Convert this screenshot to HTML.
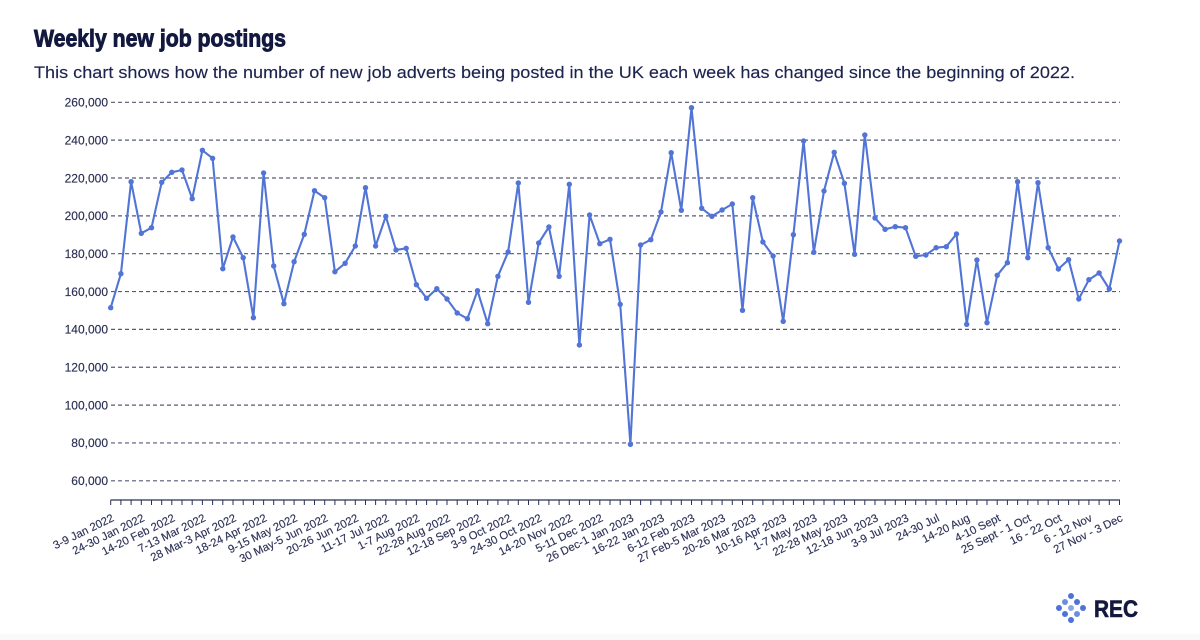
<!DOCTYPE html>
<html>
<head>
<meta charset="utf-8">
<style>
  html,body{margin:0;padding:0;background:#ffffff;}
  body{width:1200px;height:640px;overflow:hidden;}
  svg{display:block;}
  text{font-family:"Liberation Sans",sans-serif;}
</style>
</head>
<body>
<svg width="1200" height="640" viewBox="0 0 1200 640" xmlns="http://www.w3.org/2000/svg">
  <defs>
    <marker id="dot" markerWidth="8" markerHeight="8" refX="4" refY="4" markerUnits="userSpaceOnUse">
      <circle cx="4" cy="4" r="2.7" fill="#5174d6"/>
    </marker>
  </defs>
  <rect x="0" y="0" width="1200" height="640" fill="#ffffff"/>
  <rect x="0" y="634" width="1200" height="6" fill="#fafafa"/>

  <!-- Title -->
  <text x="34" y="46.5" font-size="24" font-weight="bold" fill="#13183f" stroke="#13183f" stroke-width="0.9" textLength="252" lengthAdjust="spacingAndGlyphs">Weekly new job postings</text>
  <text x="34" y="78" font-size="17" fill="#1d2350" stroke="#1d2350" stroke-width="0.15" textLength="1041" lengthAdjust="spacingAndGlyphs">This chart shows how the number of new job adverts being posted in the UK each week has changed since the beginning of 2022.</text>

  <!-- Gridlines -->
  <g stroke="#555a78" stroke-width="1.2" stroke-dasharray="4,3">
    <line x1="111" y1="102.3" x2="1120" y2="102.3"/>
    <line x1="111" y1="140.15" x2="1120" y2="140.15"/>
    <line x1="111" y1="178" x2="1120" y2="178"/>
    <line x1="111" y1="215.85" x2="1120" y2="215.85"/>
    <line x1="111" y1="253.7" x2="1120" y2="253.7"/>
    <line x1="111" y1="291.55" x2="1120" y2="291.55"/>
    <line x1="111" y1="329.4" x2="1120" y2="329.4"/>
    <line x1="111" y1="367.25" x2="1120" y2="367.25"/>
    <line x1="111" y1="405.1" x2="1120" y2="405.1"/>
    <line x1="111" y1="442.95" x2="1120" y2="442.95"/>
    <line x1="111" y1="480.8" x2="1120" y2="480.8"/>
  </g>

  <!-- Y labels -->
  <g font-size="12" fill="#2b3055" text-anchor="end" stroke="#2b3055" stroke-width="0.15">
    <text x="108" y="106.6">260,000</text>
    <text x="108" y="144.4">240,000</text>
    <text x="108" y="182.3">220,000</text>
    <text x="108" y="220.1">200,000</text>
    <text x="108" y="258">180,000</text>
    <text x="108" y="295.8">160,000</text>
    <text x="108" y="333.7">140,000</text>
    <text x="108" y="371.5">120,000</text>
    <text x="108" y="409.4">100,000</text>
    <text x="108" y="447.2">80,000</text>
    <text x="108" y="485.1">60,000</text>
  </g>

  <!-- X axis -->
  <line x1="110.7" y1="500" x2="1120" y2="500" stroke="#2b3055" stroke-width="1.3"/>
  <path stroke="#2b3055" stroke-width="1" fill="none" d="
M110.7 500v5 M120.9 500v5 M131.1 500v5 M141.3 500v5 M151.5 500v5 M161.7 500v5 M171.8 500v5 M182.0 500v5 M192.2 500v5 M202.4 500v5
M212.6 500v5 M222.8 500v5 M233.0 500v5 M243.2 500v5 M253.4 500v5 M263.6 500v5 M273.7 500v5 M283.9 500v5 M294.1 500v5 M304.3 500v5
M314.5 500v5 M324.7 500v5 M334.9 500v5 M345.1 500v5 M355.3 500v5 M365.5 500v5 M375.6 500v5 M385.8 500v5 M396.0 500v5 M406.2 500v5
M416.4 500v5 M426.6 500v5 M436.8 500v5 M447.0 500v5 M457.2 500v5 M467.4 500v5 M477.5 500v5 M487.7 500v5 M497.9 500v5 M508.1 500v5
M518.3 500v5 M528.5 500v5 M538.7 500v5 M548.9 500v5 M559.1 500v5 M569.3 500v5 M579.4 500v5 M589.6 500v5 M599.8 500v5 M610.0 500v5
M620.2 500v5 M630.4 500v5 M640.6 500v5 M650.8 500v5 M661.0 500v5 M671.2 500v5 M681.3 500v5 M691.5 500v5 M701.7 500v5 M711.9 500v5
M722.1 500v5 M732.3 500v5 M742.5 500v5 M752.7 500v5 M762.9 500v5 M773.1 500v5 M783.2 500v5 M793.4 500v5 M803.6 500v5 M813.8 500v5
M824.0 500v5 M834.2 500v5 M844.4 500v5 M854.6 500v5 M864.8 500v5 M875.0 500v5 M885.1 500v5 M895.3 500v5 M905.5 500v5 M915.7 500v5
M925.9 500v5 M936.1 500v5 M946.3 500v5 M956.5 500v5 M966.7 500v5 M976.9 500v5 M987.0 500v5 M997.2 500v5 M1007.4 500v5 M1017.6 500v5
M1027.8 500v5 M1038.0 500v5 M1048.2 500v5 M1058.4 500v5 M1068.6 500v5 M1078.8 500v5 M1088.9 500v5 M1099.1 500v5 M1109.3 500v5 M1119.5 500v5"/>

  <!-- X labels -->
  <g font-size="11.3" fill="#2d3259" text-anchor="end" stroke="#2d3259" stroke-width="0.15">
    <text transform="translate(114.7,520.5) rotate(-26)">3-9 Jan 2022</text>
    <text transform="translate(145.3,520.5) rotate(-26)">24-30 Jan 2022</text>
    <text transform="translate(175.8,520.5) rotate(-26)">14-20 Feb 2022</text>
    <text transform="translate(206.4,520.5) rotate(-26)">7-13 Mar 2022</text>
    <text transform="translate(237.0,520.5) rotate(-26)">28 Mar-3 Apr 2022</text>
    <text transform="translate(267.6,520.5) rotate(-26)">18-24 Apr 2022</text>
    <text transform="translate(298.1,520.5) rotate(-26)">9-15 May 2022</text>
    <text transform="translate(328.7,520.5) rotate(-26)">30 May-5 Jun 2022</text>
    <text transform="translate(359.3,520.5) rotate(-26)">20-26 Jun 2022</text>
    <text transform="translate(389.8,520.5) rotate(-26)">11-17 Jul 2022</text>
    <text transform="translate(420.4,520.5) rotate(-26)">1-7 Aug 2022</text>
    <text transform="translate(451.0,520.5) rotate(-26)">22-28 Aug 2022</text>
    <text transform="translate(481.5,520.5) rotate(-26)">12-18 Sep 2022</text>
    <text transform="translate(512.1,520.5) rotate(-26)">3-9 Oct 2022</text>
    <text transform="translate(542.7,520.5) rotate(-26)">24-30 Oct 2022</text>
    <text transform="translate(573.3,520.5) rotate(-26)">14-20 Nov 2022</text>
    <text transform="translate(603.8,520.5) rotate(-26)">5-11 Dec 2022</text>
    <text transform="translate(634.4,520.5) rotate(-26)">26 Dec-1 Jan 2023</text>
    <text transform="translate(665.0,520.5) rotate(-26)">16-22 Jan 2023</text>
    <text transform="translate(695.5,520.5) rotate(-26)">6-12 Feb 2023</text>
    <text transform="translate(726.1,520.5) rotate(-26)">27 Feb-5 Mar 2023</text>
    <text transform="translate(756.7,520.5) rotate(-26)">20-26 Mar 2023</text>
    <text transform="translate(787.2,520.5) rotate(-26)">10-16 Apr 2023</text>
    <text transform="translate(817.8,520.5) rotate(-26)">1-7 May 2023</text>
    <text transform="translate(848.4,520.5) rotate(-26)">22-28 May 2023</text>
    <text transform="translate(879.0,520.5) rotate(-26)">12-18 Jun 2023</text>
    <text transform="translate(909.5,520.5) rotate(-26)">3-9 Jul 2023</text>
    <text transform="translate(940.1,520.5) rotate(-26)">24-30 Jul</text>
    <text transform="translate(970.7,520.5) rotate(-26)">14-20 Aug</text>
    <text transform="translate(1001.2,520.5) rotate(-26)">4-10 Sept</text>
    <text transform="translate(1031.8,520.5) rotate(-26)">25 Sept - 1 Oct</text>
    <text transform="translate(1062.4,520.5) rotate(-26)">16 - 22 Oct</text>
    <text transform="translate(1092.9,520.5) rotate(-26)">6 - 12 Nov</text>
    <text transform="translate(1123.5,520.5) rotate(-26)">27 Nov - 3 Dec</text>
  </g>

  <!-- Data line -->
  <polyline fill="none" stroke="#5174d6" stroke-width="2.1" stroke-linejoin="round"
    marker-start="url(#dot)" marker-mid="url(#dot)" marker-end="url(#dot)"
    points="110.7,307.7 120.9,273.7 131.1,181.7 141.3,233.3 151.5,227.7 161.7,182.3 171.8,172.3 182.0,170.0 192.2,198.7 202.4,150.3 212.6,158.3 222.8,268.7 233.0,237.0 243.2,257.7 253.4,317.7 263.6,173.0 273.7,266.0 283.9,303.7 294.1,261.7 304.3,234.3 314.5,190.7 324.7,197.7 334.9,271.7 345.1,263.3 355.3,246.0 365.5,187.7 375.6,246.0 385.8,216.3 396.0,250.0 406.2,248.3 416.4,284.7 426.6,298.3 436.8,288.7 447.0,299.0 457.2,313.0 467.4,318.7 477.5,290.7 487.7,323.7 497.9,276.3 508.1,252.0 518.3,183.0 528.5,302.3 538.7,243.0 548.9,227.0 559.1,276.3 569.3,184.3 579.4,345.0 589.6,215.0 599.8,243.7 610.0,239.3 620.2,304.3 630.4,444.3 640.6,245.0 650.8,239.7 661.0,212.0 671.2,152.7 681.3,210.3 691.5,107.7 701.7,208.3 711.9,216.3 722.1,210.0 732.3,204.0 742.5,310.3 752.7,197.7 762.9,242.0 773.1,256.0 783.2,321.3 793.4,234.7 803.6,141.0 813.8,252.3 824.0,191.0 834.2,152.3 844.4,183.3 854.6,254.3 864.8,135.0 875.0,218.0 885.1,229.3 895.3,226.7 905.5,227.7 915.7,256.3 925.9,255.0 936.1,247.7 946.3,246.7 956.5,234.0 966.7,324.3 976.9,260.0 987.0,322.7 997.2,275.3 1007.4,262.7 1017.6,181.7 1027.8,257.7 1038.0,182.7 1048.2,247.7 1058.4,269.0 1068.6,259.7 1078.8,299.0 1088.9,279.7 1099.1,273.0 1109.3,289.0 1119.5,241.0"/>

  <!-- REC logo -->
  <g>
    <circle cx="1071" cy="596" r="3" fill="#4f72d8"/>
    <circle cx="1065" cy="602" r="3" fill="#6f8de0"/>
    <circle cx="1077" cy="602" r="3" fill="#4f72d8"/>
    <circle cx="1059" cy="608" r="3" fill="#4f72d8"/>
    <circle cx="1071" cy="608" r="3" fill="#8ea6e8"/>
    <circle cx="1083" cy="608" r="3" fill="#4f72d8"/>
    <circle cx="1065" cy="614" r="3" fill="#4f72d8"/>
    <circle cx="1077" cy="614" r="3" fill="#6f8de0"/>
    <circle cx="1071" cy="620" r="3" fill="#4f72d8"/>
  </g>
  <text x="1094" y="617" font-size="24" font-weight="bold" fill="#13183f" stroke="#13183f" stroke-width="0.6" textLength="44" lengthAdjust="spacingAndGlyphs">REC</text>
</svg>
</body>
</html>
